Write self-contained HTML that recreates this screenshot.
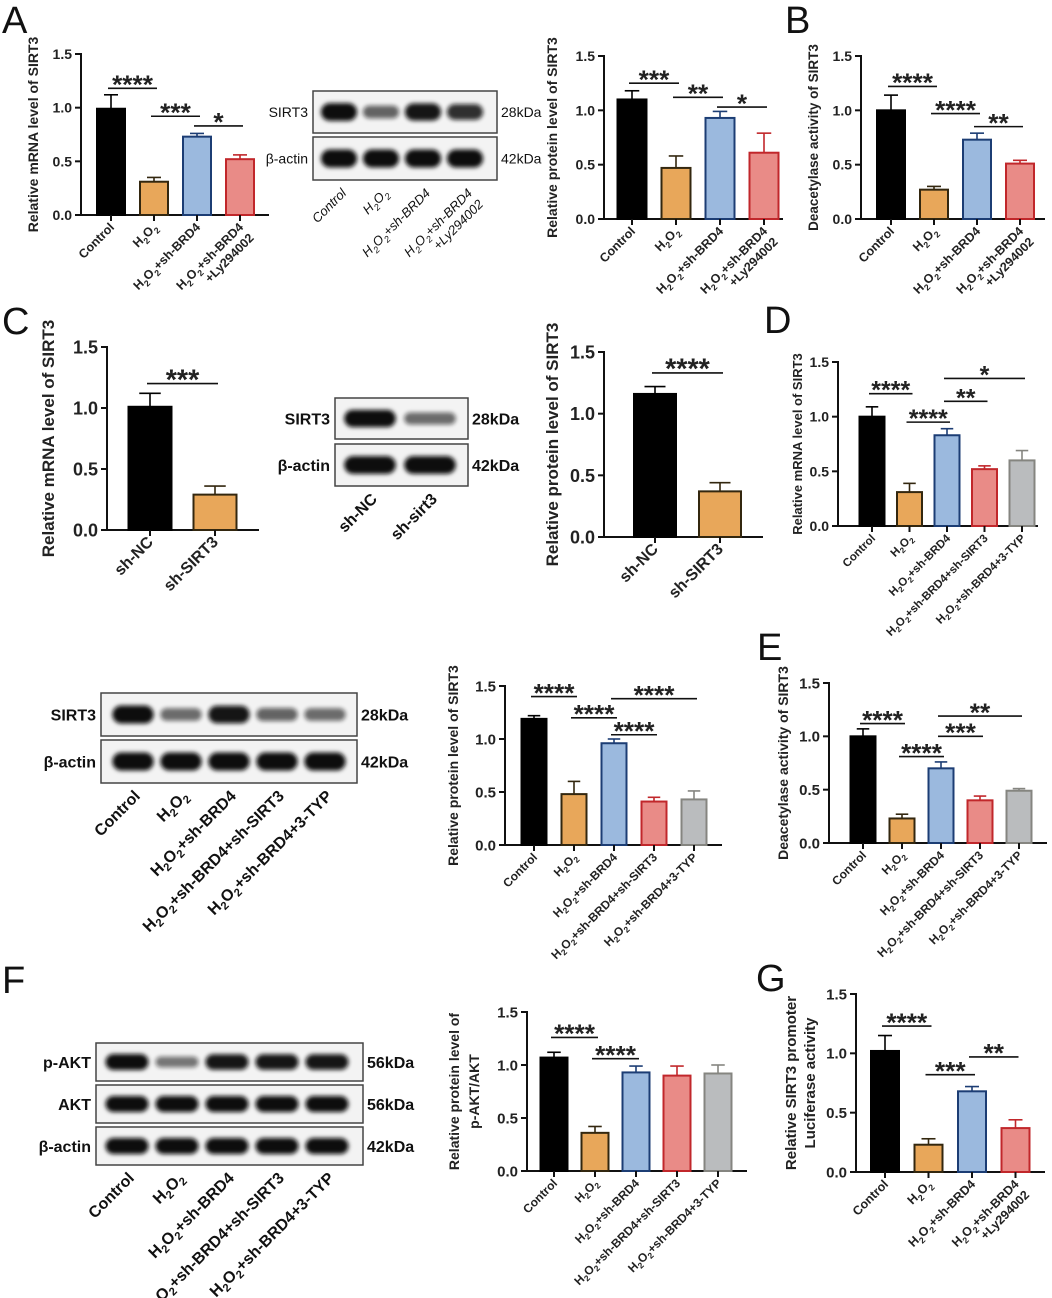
<!DOCTYPE html>
<html><head><meta charset="utf-8">
<style>
html,body{margin:0;padding:0;background:#fff;}
svg{display:block;font-family:"Liberation Sans",Arial,sans-serif;}
.pl{font-family:"Liberation Sans Narrow","Liberation Sans",sans-serif;font-size:38px;fill:#111;}
</style></head>
<body>
<svg id="fig" width="1052" height="1298" viewBox="0 0 1052 1298" xmlns="http://www.w3.org/2000/svg">
<defs><filter id="blur" x="-20%" y="-50%" width="140%" height="200%"><feGaussianBlur stdDeviation="2.2"/></filter></defs>
<text class="pl" x="2" y="33">A</text>
<text class="pl" x="785" y="33">B</text>
<text class="pl" x="2" y="334">C</text>
<text class="pl" x="764" y="333">D</text>
<text class="pl" x="757" y="660">E</text>
<text class="pl" x="2" y="993">F</text>
<text class="pl" x="756" y="991">G</text>
</svg>
<script>
// ---------- data ----------
const tickVals = [0, 0.5, 1.0, 1.5];
const tickLabels = ['0.0', '0.5', '1.0', '1.5'];
const catsA = ['Control', 'H2O2', 'H2O2+sh-BRD4', 'H2O2+sh-BRD4|+Ly294002'];
const catsD = ['Control', 'H2O2', 'H2O2+sh-BRD4', 'H2O2+sh-BRD4+sh-SIRT3', 'H2O2+sh-BRD4+3-TYP'];
const catsC = ['sh-NC', 'sh-SIRT3'];

const a1Vals = [0.99, 0.31, 0.73, 0.52];
const a1Err = [0.13, 0.04, 0.03, 0.04];
const a1Sig = [[0, 1, 1.18, '****'], [1, 2, 0.92, '***'], [2, 3, 0.83, '*']];

const a2Vals = [1.10, 0.47, 0.93, 0.61];
const a2Err = [0.08, 0.11, 0.06, 0.18];
const a2Sig = [[0, 1, 1.25, '***'], [1, 2, 1.12, '**'], [2, 3, 1.03, '*']];

const bVals = [1.00, 0.27, 0.73, 0.51];
const bErr = [0.14, 0.03, 0.06, 0.03];
const bSig = [[0, 1, 1.22, '****'], [1, 2, 0.97, '****'], [2, 3, 0.85, '**']];

const c1Vals = [1.01, 0.29];
const c1Err = [0.11, 0.07];
const c1Sig = [[0, 1, 1.20, '***']];

const c2Vals = [1.16, 0.37];
const c2Err = [0.06, 0.07];
const c2Sig = [[0, 1, 1.33, '****']];

const dVals = [1.00, 0.31, 0.83, 0.52, 0.60];
const dErr = [0.09, 0.08, 0.06, 0.03, 0.09];
const dSig = [[0, 1, 1.21, '****'], [1, 2, 0.95, '****'], [2, 3, 1.14, '**'], [2, 4, 1.35, '*']];

const pVals = [1.19, 0.48, 0.96, 0.41, 0.43];
const pErr = [0.03, 0.12, 0.04, 0.04, 0.08];
const pSig = [[0, 1, 1.40, '****'], [1, 2, 1.20, '****'], [2, 4, 1.38, '****'], [2, 3, 1.04, '****']];

const eVals = [1.00, 0.23, 0.70, 0.40, 0.49];
const eErr = [0.07, 0.04, 0.06, 0.04, 0.02];
const eSig = [[0, 1, 1.12, '****'], [1, 2, 0.81, '****'], [2, 3, 1.00, '***'], [2, 4, 1.19, '**']];

const fVals = [1.07, 0.36, 0.93, 0.90, 0.92];
const fErr = [0.05, 0.06, 0.06, 0.09, 0.08];
const fSig = [[0, 1, 1.26, '****'], [1, 2, 1.06, '****']];

const gVals = [1.02, 0.23, 0.68, 0.37];
const gErr = [0.13, 0.05, 0.04, 0.07];
const gSig = [[0, 1, 1.23, '****'], [1, 2, 0.82, '***'], [2, 3, 0.97, '**']];

// western blot band intensities
const wbA_sirt3 = [1, 0.5, 0.95, 0.8];
const wbA_actin = [1, 1, 1, 1];
const wbC_sirt3 = [1, 0.45];
const wbC_actin = [1, 1];
const wbD_sirt3 = [1, 0.45, 0.95, 0.5, 0.45];
const wbD_actin = [1, 1, 1, 1, 1];
const wbF_pakt = [1, 0.4, 0.95, 0.95, 0.95];
const wbF_akt = [1, 1, 1, 1, 1];
const wbF_actin = [1, 1, 1, 1, 1];

// ---------- helpers ----------
const NS = 'http://www.w3.org/2000/svg';
const svg = document.getElementById('fig');
const FILL = ['#000000', '#e8a75a', '#9bb9de', '#e98b87', '#babcbe'];
const STROKE = ['#000000', '#33270f', '#1c3d74', '#c1272b', '#858580'];

function mk(tag, attrs, parent) {
  const e = document.createElementNS(NS, tag);
  for (const k in attrs) e.setAttribute(k, attrs[k]);
  (parent || svg).appendChild(e);
  return e;
}
function addRich(t, str, fs) {
  const parts = str.split(/(H2O2)/);
  const sh = Math.round(fs * 0.28);
  parts.forEach(p => {
    if (!p) return;
    if (p === 'H2O2') {
      const a = mk('tspan', {}, t); a.textContent = 'H';
      const b = mk('tspan', {dy: sh, 'font-size': fs * 0.7}, t); b.textContent = '2';
      const c = mk('tspan', {dy: -sh}, t); c.textContent = 'O';
      const d = mk('tspan', {dy: sh, 'font-size': fs * 0.7}, t); d.textContent = '2';
      const e = mk('tspan', {dy: -sh}, t); e.textContent = '\u200B';
    } else {
      const s = mk('tspan', {}, t); s.textContent = p;
    }
  });
}

function chart(c) {
  const g = mk('g', {});
  
  
  const yS = v => c.y0 - (v / 1.5) * (c.y0 - c.y15);
  const xS = i => c.ax + c.pad + i * c.step;
  const axY = mk('line', {x1: c.ax, y1: c.y15 - 1, x2: c.ax, y2: c.y0 + 1, stroke: '#111', 'stroke-width': 2}, g);
  
  
  const axX = mk('line', {x1: c.ax - 1, y1: c.y0, x2: c.xEnd, y2: c.y0, stroke: '#111', 'stroke-width': 2}, g);
  
  
  tickVals.forEach((v, k) => {
    mk('line', {x1: c.ax - 6, y1: yS(v), x2: c.ax, y2: yS(v), stroke: '#111', 'stroke-width': 2}, g);
    const t = mk('text', {x: c.ax - 9, y: yS(v) + c.tickFs * 0.36, 'text-anchor': 'end', 'font-size': c.tickFs, 'font-weight': 'bold', fill: '#222'}, g);
    
    
    t.textContent = tickLabels[k];
  });
  const my = (c.y0 + c.y15) / 2;
  c.title.forEach((line, k) => {
    const tx = c.ax - c.titleOff[k];
    const t = mk('text', {x: tx, y: my, 'text-anchor': 'middle', 'font-size': c.titleFs, 'font-weight': 'bold', fill: '#222', transform: `rotate(-90 ${tx} ${my})`}, g);
    
    
    t.textContent = line;
  });
  c.vals.forEach((v, i) => {
    const cx = xS(i);
    const col = c.colors[i];
    const r = mk('rect', {x: cx - c.bw / 2, y: yS(v), width: c.bw, height: c.y0 - yS(v), fill: FILL[col], stroke: STROKE[col], 'stroke-width': 2}, g);
    
    
    const et = yS(v + c.err[i]);
    const el = mk('line', {x1: cx, y1: yS(v), x2: cx, y2: et, stroke: STROKE[col], 'stroke-width': 1.6}, g);
    
    
    mk('line', {x1: cx - c.bw * 0.25, y1: et, x2: cx + c.bw * 0.25, y2: et, stroke: STROKE[col], 'stroke-width': 1.6}, g);
    mk('line', {x1: cx, y1: c.y0, x2: cx, y2: c.y0 + 6, stroke: '#111', 'stroke-width': 2}, g);
    const lx = cx + 4, ly = c.y0 + 13;
    const t = mk('text', {x: lx, y: ly, 'text-anchor': 'end', 'font-size': c.labFs, 'font-weight': 'bold', fill: '#222', transform: `rotate(-45 ${lx} ${ly})`}, g);
    
    
    c.cats[i].split('|').forEach((ln, k) => {
      const sp = mk('tspan', {x: lx, dy: k === 0 ? 0 : c.labFs * 1.2}, t);
      addRich(sp, ln, c.labFs);
    });
  });
  c.sig.forEach(s => {
    const y = yS(s[2]);
    const x1 = xS(s[0]) - 3, x2 = xS(s[1]) + 3;
    const l = mk('line', {x1: x1, y1: y, x2: x2, y2: y, stroke: '#111', 'stroke-width': 1.6}, g);
    
    
    const fs = c.starFs * 1.25;
    const t = mk('text', {x: (x1 + x2) / 2, y: y + fs * 0.2, 'text-anchor': 'middle', 'font-size': fs, 'font-weight': 'bold', 'letter-spacing': 0, fill: '#222'}, g);
    
    
    t.textContent = s[3];
  });
}

function blot(b) {
  const g = mk('g', {});
  
  
  b.rows.forEach(row => {
    const r = mk('rect', {x: b.x, y: row.y, width: b.w, height: row.h, fill: '#f3f3f3', stroke: '#444', 'stroke-width': 1.5}, g);
    
    
    const bh = row.h * 0.42;
    row.vals.forEach((v, i) => {
      const cx = b.lane0 + i * b.step;
      const h = bh * (0.45 + 0.55 * v);
      const w = b.step * 0.86;
      const band = mk('rect', {x: cx - w / 2, y: row.y + row.h / 2 - h / 2, width: w, height: h, rx: h / 2, fill: '#0b0b0b', opacity: 0.25 + 0.75 * v, filter: 'url(#blur)'}, g);
      
      
    });
    const t = mk('text', {x: b.x - 5, y: row.y + row.h / 2 + b.fs * 0.36, 'text-anchor': 'end', 'font-size': b.fs, 'font-weight': b.bold ? 'bold' : 'normal', fill: '#111'}, g);
    
    
    t.textContent = row.label;
    const k = mk('text', {x: b.x + b.w + 4, y: row.y + row.h / 2 + b.fs * 0.36, 'font-size': b.fs, 'font-weight': b.bold ? 'bold' : 'normal', fill: '#111'}, g);
    
    
    k.textContent = row.kda;
  });
  const bottom = b.rows[b.rows.length - 1].y + b.rows[b.rows.length - 1].h;
  b.lanes.forEach((lab, i) => {
    const lx = b.lane0 + i * b.step + 8, ly = bottom + 14;
    const t = mk('text', {x: lx, y: ly, 'text-anchor': 'end', 'font-size': b.labFs, 'font-weight': b.bold ? 'bold' : 'normal', 'font-style': b.italic ? 'italic' : 'normal', fill: '#111', transform: `rotate(-45 ${lx} ${ly})`}, g);
    
    
    lab.split('|').forEach((ln, k) => {
      const sp = mk('tspan', {x: lx, dy: k === 0 ? 0 : b.labFs * 1.2}, t);
      addRich(sp, ln, b.labFs);
    });
  });
}

// ---------- charts ----------
const base4 = [0, 1, 2, 3], base5 = [0, 1, 2, 3, 4];
chart({name: 'chart-a-mrna', ax: 81, y0: 215, y15: 54, xEnd: 269, pad: 30, step: 43, bw: 28, vals: a1Vals, err: a1Err, sig: a1Sig, cats: catsA, colors: base4, title: ['Relative mRNA level of SIRT3'], titleOff: [43], tickFs: 14, titleFs: 14, labFs: 12.5, starFs: 21});
chart({name: 'chart-a-protein', ax: 604, y0: 219, y15: 56, xEnd: 783, pad: 28, step: 44, bw: 29, vals: a2Vals, err: a2Err, sig: a2Sig, cats: catsA, colors: base4, title: ['Relative protein level of SIRT3'], titleOff: [47], tickFs: 14, titleFs: 14, labFs: 12.5, starFs: 21});
chart({name: 'chart-b-deacetylase', ax: 861, y0: 219, y15: 56, xEnd: 1045, pad: 30, step: 43, bw: 28, vals: bVals, err: bErr, sig: bSig, cats: catsA, colors: base4, title: ['Deacetylase activity of SIRT3'], titleOff: [43], tickFs: 14, titleFs: 13.5, labFs: 12.5, starFs: 21});
chart({name: 'chart-c-mrna', ax: 107, y0: 530, y15: 347, xEnd: 259, pad: 43, step: 65, bw: 43, vals: c1Vals, err: c1Err, sig: c1Sig, cats: catsC, colors: [0, 1], title: ['Relative mRNA level of SIRT3'], titleOff: [53], tickFs: 18, titleFs: 17, labFs: 16, starFs: 23});
chart({name: 'chart-c-protein', ax: 604, y0: 537, y15: 352, xEnd: 763, pad: 51, step: 65, bw: 42, vals: c2Vals, err: c2Err, sig: c2Sig, cats: catsC, colors: [0, 1], title: ['Relative protein level of SIRT3'], titleOff: [46], tickFs: 18, titleFs: 17, labFs: 16, starFs: 23});
chart({name: 'chart-d-mrna', ax: 838, y0: 526, y15: 362, xEnd: 1038, pad: 34, step: 37.5, bw: 25, vals: dVals, err: dErr, sig: dSig, cats: catsD, colors: base5, title: ['Relative mRNA level of SIRT3'], titleOff: [36], tickFs: 14, titleFs: 13, labFs: 11.5, starFs: 20});
chart({name: 'chart-sirt3-protein-5group', ax: 505, y0: 845, y15: 686, xEnd: 722, pad: 29, step: 40, bw: 25, vals: pVals, err: pErr, sig: pSig, cats: catsD, colors: base5, title: ['Relative protein level of SIRT3'], titleOff: [47], tickFs: 15, titleFs: 14, labFs: 12, starFs: 21});
chart({name: 'chart-e-deacetylase', ax: 829, y0: 843, y15: 683, xEnd: 1047, pad: 34, step: 39, bw: 25, vals: eVals, err: eErr, sig: eSig, cats: catsD, colors: base5, title: ['Deacetylase activity of SIRT3'], titleOff: [41], tickFs: 15, titleFs: 14, labFs: 12, starFs: 21});
chart({name: 'chart-f-pakt', ax: 527, y0: 1171, y15: 1012, xEnd: 747, pad: 27, step: 41, bw: 27, vals: fVals, err: fErr, sig: fSig, cats: catsD, colors: base5, title: ['Relative protein level of', 'p-AKT/AKT'], titleOff: [68, 48], tickFs: 15, titleFs: 14, labFs: 12, starFs: 21});
chart({name: 'chart-g-luciferase', ax: 856, y0: 1172, y15: 994, xEnd: 1045, pad: 29, step: 43.5, bw: 28, vals: gVals, err: gErr, sig: gSig, cats: catsA, colors: base4, title: ['Relative SIRT3 promoter', 'Luciferase activity'], titleOff: [60, 41], tickFs: 15, titleFs: 15, labFs: 12.5, starFs: 21});

// ---------- western blots ----------
blot({name: 'western-blot-a', x: 313, w: 184, lane0: 339, step: 42, fs: 14, labFs: 13, italic: true, bold: false,
  rows: [{key: 'sirt3', label: 'SIRT3', kda: '28kDa', y: 91, h: 42, vals: wbA_sirt3}, {key: 'actin', label: 'β-actin', kda: '42kDa', y: 137, h: 43, vals: wbA_actin}],
  lanes: ['Control', 'H2O2', 'H2O2+sh-BRD4', 'H2O2+sh-BRD4|+Ly294002']});
blot({name: 'western-blot-c', x: 335, w: 133, lane0: 370, step: 60, fs: 16, labFs: 16, italic: false, bold: true,
  rows: [{key: 'sirt3', label: 'SIRT3', kda: '28kDa', y: 398, h: 41, vals: wbC_sirt3}, {key: 'actin', label: 'β-actin', kda: '42kDa', y: 444, h: 42, vals: wbC_actin}],
  lanes: ['sh-NC', 'sh-sirt3']});
blot({name: 'western-blot-sirt3-5group', x: 101, w: 256, lane0: 133, step: 48, fs: 16, labFs: 16, italic: false, bold: true,
  rows: [{key: 'sirt3', label: 'SIRT3', kda: '28kDa', y: 693, h: 43, vals: wbD_sirt3}, {key: 'actin', label: 'β-actin', kda: '42kDa', y: 740, h: 43, vals: wbD_actin}],
  lanes: catsD});
blot({name: 'western-blot-f', x: 96, w: 267, lane0: 127, step: 50, fs: 16, labFs: 16, italic: false, bold: true,
  rows: [{key: 'pakt', label: 'p-AKT', kda: '56kDa', y: 1043, h: 38, vals: wbF_pakt}, {key: 'akt', label: 'AKT', kda: '56kDa', y: 1085, h: 38, vals: wbF_akt}, {key: 'actin', label: 'β-actin', kda: '42kDa', y: 1127, h: 38, vals: wbF_actin}],
  lanes: catsD});
</script>
</body></html>
